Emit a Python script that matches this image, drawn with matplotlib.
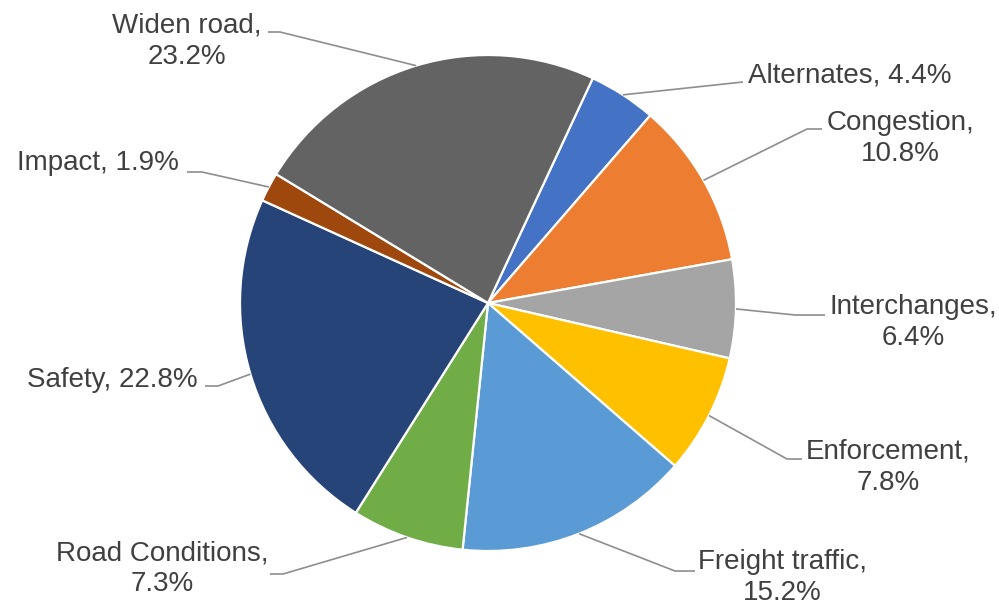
import numpy as np
import matplotlib.pyplot as plt

W, H = 999, 607

categories = ['Alternates', 'Congestion', 'Interchanges', 'Enforcement',
              'Freight traffic', 'Road Conditions', 'Safety', 'Impact',
              'Widen road']
shares = [4.4, 10.8, 6.4, 7.8, 15.2, 7.3, 22.8, 1.9, 23.2]
colors = ['#4472C4', '#ED7D31', '#A5A5A5', '#FFC000', '#5B9BD5',
          '#70AD47', '#264478', '#9E480E', '#636363']
# labels that wrap onto two lines in the chart
wrapped = [False, True, True, True, True, True, False, False, True]

# label layout (pixels from top-left): text anchor = (centre x, last baseline),
# leader line end next to the label and a short horizontal elbow
label_pos = [(850, 83), (900, 161), (913, 345), (888, 490), (782, 600),
             (162, 591), (112, 387), (98, 170), (187, 64)]
line_end = [(743, 82), (822, 129), (825, 315), (802, 459), (695, 571),
            (270, 574), (205, 386), (187, 172), (268, 32)]
elbow = [0, -15, -30, -15, -20, 13, 13, 15, 12]

fig = plt.figure(figsize=(W / 100, H / 100), dpi=100)
ax = fig.add_axes([0, 0, 1, 1])

cx, cy, r = 488, H - 303, 248
wedges, _ = ax.pie(shares, colors=colors, startangle=65, counterclock=False,
                   center=(cx, cy), radius=r,
                   wedgeprops=dict(edgecolor='white', linewidth=1.6))
ax.set_xlim(0, W)
ax.set_ylim(0, H)
ax.set_aspect('equal')
ax.axis('off')

for w, cat, val, wr, (tx, ty), (ex, ey), el in zip(
        wedges, categories, shares, wrapped, label_pos, line_end, elbow):
    mid = np.deg2rad((w.theta1 + w.theta2) / 2)
    px, py = cx + r * np.cos(mid), cy + r * np.sin(mid)
    xs = [px, ex + el, ex]
    ys = [py, H - ey, H - ey]
    ax.plot(xs, ys, color='#8E8E8E', lw=1.2, solid_capstyle='butt', zorder=3)

    txt = f'{cat},\n{val}%' if wr else f'{cat}, {val}%'
    ax.text(tx, H - ty, txt, ha='center', va='baseline', multialignment='center',
            fontsize=20, family='Liberation Sans', color='#404040',
            linespacing=1.25)

fig.savefig('out.png', dpi=100)
